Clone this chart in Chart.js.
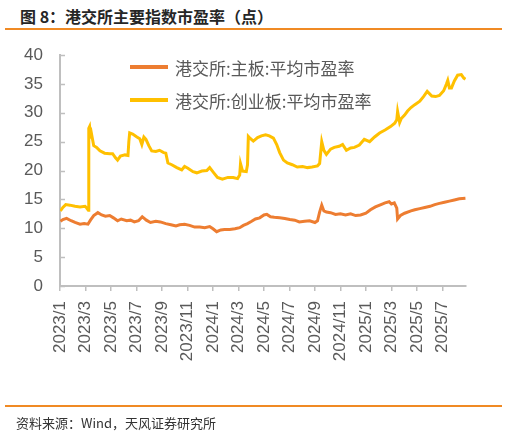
<!DOCTYPE html>
<html>
<head>
<meta charset="utf-8">
<script src="https://cdn.jsdelivr.net/npm/chart.js@4.4.1/dist/chart.umd.min.js"></script>
<style>
    body { margin: 0; width: 508px; height: 434px; position: relative; background: #fff; overflow: hidden; }
    #chart-box { position: absolute; left: 0; top: 0; width: 508px; height: 434px; }
    #title { position: absolute; left: 20px; top: 4px; font: bold 16px "Noto Sans CJK SC", sans-serif; color: #262626; white-space: nowrap; }
    .rule { position: absolute; left: 5px; width: 497px; height: 2px; background: #f08a24; }
    #source { position: absolute; left: 16px; top: 413px; font: 13px "Noto Sans CJK SC", sans-serif; color: #333; white-space: nowrap; }
    .legend-row { position: absolute; left: 130px; height: 20px; display: flex; align-items: center; font: 17px "Noto Sans CJK SC", sans-serif; color: #595959; white-space: nowrap; }
    .legend-line { width: 38px; height: 4px; margin-right: 7px; }
</style>
</head>
<body>
<div id="title">图 8：港交所主要指数市盈率（点）</div>
<div class="rule" style="top:28px"></div>
<div id="chart-box"><canvas id="chart" width="508" height="434"></canvas></div>
<div class="legend-row" style="top:57px"><span class="legend-line" style="background:#ED7D31"></span>港交所:主板:平均市盈率</div>
<div class="legend-row" style="top:90px"><span class="legend-line" style="background:#FFC000"></span>港交所:创业板:平均市盈率</div>
<div class="rule" style="top:405px"></div>
<div id="source">资料来源：Wind，天风证券研究所</div>

<script>
// tick labels on x axis, one per two months
var monthLabels = ['2023/1', '2023/3', '2023/5', '2023/7', '2023/9', '2023/11',
    '2024/1', '2024/3', '2024/5', '2024/7', '2024/9', '2024/11',
    '2025/1', '2025/3', '2025/5', '2025/7'];

// 主板 平均市盈率
var mainDates = ['2023-01-02', '2023-01-08', '2023-01-17', '2023-01-28', '2023-02-06', '2023-02-17', '2023-02-26',
    '2023-03-07', '2023-03-13', '2023-03-21', '2023-03-31', '2023-04-09', '2023-04-18', '2023-04-28',
    '2023-05-07', '2023-05-17', '2023-05-26', '2023-06-08', '2023-06-17', '2023-06-26', '2023-07-06',
    '2023-07-15', '2023-07-25', '2023-08-04', '2023-08-17', '2023-08-28', '2023-09-10', '2023-09-22',
    '2023-10-04', '2023-10-13', '2023-10-25', '2023-11-06', '2023-11-18', '2023-11-30', '2023-12-12',
    '2023-12-24', '2024-01-01', '2024-01-10', '2024-01-20', '2024-01-29', '2024-02-10', '2024-02-22',
    '2024-03-04', '2024-03-13', '2024-03-23', '2024-04-02', '2024-04-11', '2024-04-21', '2024-05-01',
    '2024-05-08', '2024-05-17', '2024-05-26', '2024-06-08', '2024-06-20', '2024-07-02', '2024-07-14',
    '2024-07-25', '2024-08-07', '2024-08-19', '2024-09-01', '2024-09-07', '2024-09-12', '2024-09-17',
    '2024-09-22', '2024-09-28', '2024-10-08', '2024-10-20', '2024-11-01', '2024-11-13', '2024-11-25',
    '2024-12-07', '2024-12-19', '2025-01-01', '2025-01-12', '2025-01-24', '2025-02-06', '2025-02-15',
    '2025-02-24', '2025-03-01', '2025-03-08', '2025-03-14', '2025-03-16', '2025-03-23', '2025-04-02',
    '2025-04-17', '2025-04-26', '2025-05-08', '2025-05-20', '2025-06-02', '2025-06-13', '2025-06-24',
    '2025-07-06', '2025-07-18', '2025-07-30', '2025-08-11', '2025-08-26'];
var mainValues = [11.2, 11.5, 11.7, 11.3, 11.0, 10.7, 10.8,
    10.7, 11.4, 12.2, 12.7, 12.3, 12.1, 12.2,
    11.8, 11.3, 11.6, 11.3, 11.4, 11.1, 11.3,
    12.0, 11.4, 11.0, 11.2, 11.1, 10.8, 10.6,
    10.4, 10.6, 10.7, 10.5, 10.2, 10.2, 10.1,
    10.3, 9.9, 9.4, 9.7, 9.8, 9.8, 9.9,
    10.1, 10.5, 10.8, 11.2, 11.6, 11.8, 12.3,
    12.4, 12.0, 11.9, 11.8, 11.7, 11.5, 11.4,
    11.1, 11.2, 11.3, 11.0, 11.3, 12.8, 14.0,
    13.0, 12.8, 12.7, 12.4, 12.5, 12.3, 12.5,
    12.2, 12.3, 12.6, 13.2, 13.7, 14.1, 14.4,
    14.6, 14.2, 14.4, 13.5, 11.6, 12.2, 12.6,
    13.0, 13.2, 13.4, 13.6, 13.8, 14.1, 14.3,
    14.5, 14.7, 14.9, 15.1, 15.2];

// 创业板 平均市盈率
var gemDates = ['2023-01-02', '2023-01-08', '2023-01-15', '2023-01-25', '2023-02-06', '2023-02-17', '2023-02-28',
    '2023-03-04', '2023-03-08', '2023-03-09', '2023-03-11', '2023-03-13', '2023-03-15', '2023-03-21',
    '2023-03-28', '2023-04-05', '2023-04-16', '2023-04-28', '2023-05-05', '2023-05-12', '2023-05-17',
    '2023-05-24', '2023-06-04', '2023-06-11', '2023-06-13', '2023-06-15', '2023-06-22', '2023-07-02',
    '2023-07-09', '2023-07-14', '2023-07-19', '2023-07-24', '2023-07-31', '2023-08-07', '2023-08-17',
    '2023-08-26', '2023-09-05', '2023-09-10', '2023-09-15', '2023-09-24', '2023-10-06', '2023-10-18',
    '2023-10-25', '2023-11-02', '2023-11-14', '2023-11-23', '2023-12-05', '2023-12-17', '2023-12-24',
    '2024-01-03', '2024-01-12', '2024-01-24', '2024-02-06', '2024-02-18', '2024-02-28', '2024-03-04',
    '2024-03-06', '2024-03-11', '2024-03-20', '2024-03-23', '2024-03-25', '2024-03-29', '2024-04-06',
    '2024-04-16', '2024-04-25', '2024-05-05', '2024-05-14', '2024-05-24', '2024-06-01', '2024-06-08',
    '2024-06-17', '2024-06-26', '2024-07-08', '2024-07-20', '2024-08-02', '2024-08-14', '2024-08-25',
    '2024-09-07', '2024-09-12', '2024-09-17', '2024-09-22', '2024-09-28', '2024-10-08', '2024-10-17',
    '2024-10-29', '2024-11-06', '2024-11-15', '2024-11-25', '2024-12-04', '2024-12-16', '2024-12-28',
    '2025-01-10', '2025-01-22', '2025-02-03', '2025-02-15', '2025-02-27', '2025-03-09', '2025-03-14',
    '2025-03-16', '2025-03-21', '2025-03-25', '2025-04-02', '2025-04-09', '2025-04-17', '2025-04-26',
    '2025-05-08', '2025-05-17', '2025-05-26', '2025-06-06', '2025-06-15', '2025-06-24', '2025-07-04',
    '2025-07-11', '2025-07-14', '2025-07-18', '2025-07-23', '2025-07-30', '2025-08-07', '2025-08-16',
    '2025-08-22', '2025-08-26'];
var gemValues = [13.0, 13.6, 14.1, 14.0, 13.8, 13.7, 13.8,
    13.5, 13.1, 27.3, 27.6, 26.2, 26.6, 24.3,
    24.0, 23.4, 23.0, 22.9, 22.9, 22.2, 21.8,
    22.5, 22.7, 22.6, 25.0, 26.5, 26.3, 25.8,
    25.5, 24.5, 25.8, 25.4, 24.3, 23.4, 23.3,
    23.5, 23.1, 23.0, 21.3, 21.0, 20.5, 20.1,
    20.7, 20.4, 19.8, 19.6, 19.9, 20.0, 20.5,
    19.6, 18.8, 18.5, 18.8, 18.8, 18.6, 19.2,
    21.2, 19.9, 19.8, 21.0, 25.9, 25.6, 25.1,
    25.7, 26.0, 26.2, 26.0, 25.6, 24.5, 23.1,
    21.8, 21.3, 21.0, 20.6, 20.7, 20.5, 20.6,
    20.8, 21.2, 25.0, 23.5, 22.8, 23.7, 24.0,
    24.2, 24.5, 23.5, 23.9, 24.0, 24.4, 25.4,
    25.0, 25.8, 26.5, 27.0, 27.6, 28.2, 28.8,
    30.2, 28.3, 29.0, 29.6, 30.3, 30.9, 31.4,
    32.0, 32.8, 33.7, 32.9, 32.8, 33.0, 33.8,
    35.0, 35.6, 34.3, 34.3, 35.5, 36.5, 36.6,
    36.0, 35.8];

// months since 2023/1
function monthPos(s) {
    var p = s.split('-').map(Number);
    var days = new Date(p[0], p[1], 0).getDate();
    return (p[0] - 2023) * 12 + (p[1] - 1) + (p[2] - 1) / days;
}

function toPoints(dates, values) {
    return dates.map(function (d, i) {
        return { x: monthPos(d), y: values[i] };
    });
}

var axisColor = '#bfbfbf';
var labelFont = { family: '"Liberation Sans", Arial, sans-serif', size: 17 };

// y ticks point inwards in the reference
var innerTicks = {
    id: 'innerTicks',
    afterDraw: function (chart) {
        var c = chart.ctx;
        var y = chart.scales.y;
        c.save();
        c.strokeStyle = axisColor;
        c.lineWidth = 1.5;
        y.ticks.forEach(function (t) {
            var py = Math.round(y.getPixelForValue(t.value)) + 0.5;
            c.beginPath();
            c.moveTo(chart.chartArea.left, py);
            c.lineTo(chart.chartArea.left + 5, py);
            c.stroke();
        });
        c.restore();
    }
};

var canvas = document.getElementById('chart');
new Chart(canvas, {
    type: 'line',
    data: {
        datasets: [{
            label: '港交所:主板:平均市盈率',
            data: toPoints(mainDates, mainValues),
            borderColor: '#ED7D31',
            borderWidth: 3,
            pointRadius: 0,
            tension: 0
        }, {
            label: '港交所:创业板:平均市盈率',
            data: toPoints(gemDates, gemValues),
            borderColor: '#FFC000',
            borderWidth: 3,
            pointRadius: 0,
            tension: 0
        }]
    },
    options: {
        responsive: false,
        animation: false,
        devicePixelRatio: 1,
        layout: { padding: { top: 55, right: 42, left: 0, bottom: 0 } },
        plugins: {
            legend: { display: false },
            tooltip: { enabled: false }
        },
        scales: {
            x: {
                type: 'linear',
                min: 0,
                max: 31.85,
                afterFit: function (scale) { scale.height = 148; },
                afterBuildTicks: function (scale) {
                    scale.ticks = monthLabels.map(function (l, i) { return { value: i * 2 }; });
                },
                ticks: {
                    callback: function (v) { return monthLabels[Math.round(v / 2)]; },
                    font: labelFont,
                    color: '#595959',
                    maxRotation: 90,
                    minRotation: 90,
                    padding: 10,
                    autoSkip: false
                },
                grid: { drawOnChartArea: false, tickLength: 5, color: axisColor, lineWidth: 1.5 },
                border: { color: axisColor, width: 2 }
            },
            y: {
                min: 0,
                max: 40,
                afterFit: function (scale) { scale.width = 60; },
                ticks: { stepSize: 5, font: labelFont, color: '#595959', padding: 17 },
                grid: { drawOnChartArea: false, drawTicks: false },
                border: { color: axisColor, width: 2 }
            }
        }
    },
    plugins: [innerTicks]
});
</script>
</body>
</html>
